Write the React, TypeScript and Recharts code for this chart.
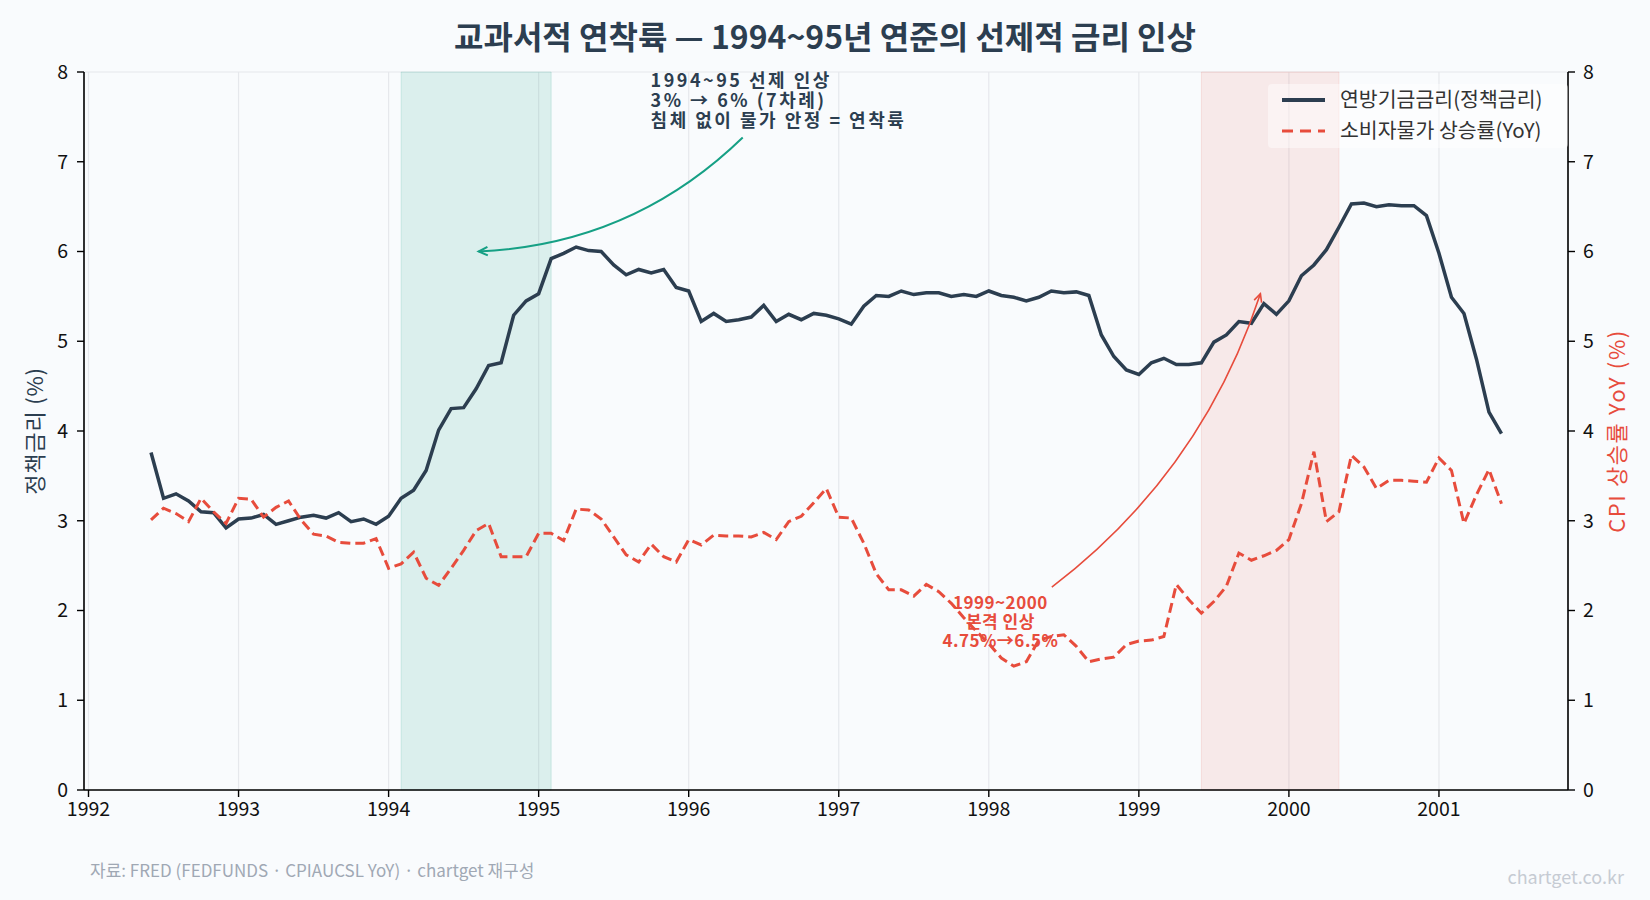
import {
  CartesianGrid,
  Legend,
  Line,
  LineChart,
  ReferenceArea,
  ReferenceDot,
  ReferenceLine,
  XAxis,
  YAxis,
} from "recharts";

// 월별 데이터: 1992-06 ~ 2001-06
const START_YEAR = 1992;
const START_MONTH = 6;

// 연방기금금리 (%)
const fedFunds = [
  3.76, 3.25, 3.3, 3.22, 3.1, 3.09, 2.92,
  3.02, 3.03, 3.07, 2.96, 3.0, 3.04, 3.06, 3.03, 3.09, 2.99, 3.02, 2.96,
  3.05, 3.25, 3.34, 3.56, 4.01, 4.25, 4.26, 4.47, 4.73, 4.76, 5.29, 5.45,
  5.53, 5.92, 5.98, 6.05, 6.01, 6.0, 5.85, 5.74, 5.8, 5.76, 5.8, 5.6,
  5.56, 5.22, 5.31, 5.22, 5.24, 5.27, 5.4, 5.22, 5.3, 5.24, 5.31, 5.29,
  5.25, 5.19, 5.39, 5.51, 5.5, 5.56, 5.52, 5.54, 5.54, 5.5, 5.52, 5.5,
  5.56, 5.51, 5.49, 5.45, 5.49, 5.56, 5.54, 5.55, 5.51, 5.07, 4.83, 4.68,
  4.63, 4.76, 4.81, 4.74, 4.74, 4.76, 4.99, 5.07, 5.22, 5.2, 5.42, 5.3,
  5.45, 5.73, 5.85, 6.02, 6.27, 6.53, 6.54, 6.5, 6.52, 6.51, 6.51, 6.4,
  5.98, 5.49, 5.31, 4.8, 4.21, 3.97,
];

// 소비자물가 상승률 YoY (%)
const cpiYoY = [
  3.01, 3.14, 3.08, 2.99, 3.25, 3.1, 2.97,
  3.25, 3.24, 3.04, 3.15, 3.22, 3.01, 2.85, 2.83, 2.76, 2.75, 2.75, 2.8,
  2.47, 2.52, 2.65, 2.36, 2.28, 2.47, 2.67, 2.89, 2.97, 2.6, 2.6, 2.6,
  2.86, 2.86, 2.78, 3.13, 3.12, 3.02, 2.82, 2.62, 2.54, 2.74, 2.6, 2.54,
  2.79, 2.73, 2.84, 2.83, 2.83, 2.82, 2.87, 2.79, 2.99, 3.05, 3.2, 3.36,
  3.04, 3.03, 2.75, 2.41, 2.23, 2.23, 2.16, 2.29, 2.21, 2.08, 1.92, 1.77,
  1.63, 1.47, 1.38, 1.43, 1.67, 1.71, 1.73, 1.6, 1.43, 1.46, 1.48, 1.62,
  1.66, 1.67, 1.71, 2.29, 2.12, 1.97, 2.1, 2.27, 2.64, 2.56, 2.61, 2.67,
  2.79, 3.19, 3.77, 2.99, 3.1, 3.73, 3.6, 3.36, 3.45, 3.45, 3.44, 3.43,
  3.7, 3.56, 2.97, 3.29, 3.57, 3.19,
];

const yearTicks = [1992, 1993, 1994, 1995, 1996, 1997, 1998, 1999, 2000, 2001];
const valueTicks = [0, 1, 2, 3, 4, 5, 6, 7, 8];

// 인상 구간 (1994-02 ~ 1995-02, 1999-06 ~ 2000-05)
const preemptiveSpan = [1994 + 1 / 12, 1995 + 1 / 12];
const fullHikeSpan = [1999 + 5 / 12, 2000 + 4 / 12];

const softLandingNote = ["1994~95 선제 인상", "3% → 6% (7차례)", "침체 없이 물가 안정 = 연착륙"];
const hikeNote = ["1999~2000", "본격 인상", "4.75%→6.5%"];

const NAVY = "#2c3e50";
const RED = "#e74c3c";
const GREEN = "#16a085";
const BG = "#f9fbfd";
const FONT = "'Noto Sans CJK KR', 'Noto Sans', sans-serif";

const data = fedFunds.map((v, i) => ({
  t: START_YEAR + (START_MONTH - 1 + i) / 12,
  fed: v,
  cpi: cpiYoY[i],
}));

function curvedArrow(color: string, width: number, bend: number, head: number) {
  return (p: any) => {
    const { x1, y1, x2, y2 } = p;
    const mx = (x1 + x2) / 2;
    const my = (y1 + y2) / 2;
    const dx = x2 - x1;
    const dy = y2 - y1;
    const cx = mx + bend * dy;
    const cy = my - bend * dx;
    const ang = Math.atan2(y2 - cy, x2 - cx);
    const a = 0.45;
    const ax = x2 - head * Math.cos(ang - a);
    const ay = y2 - head * Math.sin(ang - a);
    const bx = x2 - head * Math.cos(ang + a);
    const by = y2 - head * Math.sin(ang + a);
    return (
      <g>
        <path d={`M${x1},${y1} Q${cx},${cy} ${x2},${y2}`} fill="none" stroke={color} strokeWidth={width} />
        <path d={`M${ax},${ay} L${x2},${y2} L${bx},${by}`} fill="none" stroke={color} strokeWidth={width} />
      </g>
    );
  };
}

function noteText(lines: string[], color: string, size: number, pitch: number, anchor: "start" | "middle", center: boolean, spacing: number) {
  return (p: any) => {
    const first = center ? -pitch : 0;
    return (
      <text x={p.cx} y={p.cy} fill={color} fontSize={size} fontWeight={700} textAnchor={anchor} fontFamily={FONT} letterSpacing={spacing}>
        {lines.map((l, i) => (
          <tspan key={i} x={p.cx} y={p.cy + first + i * pitch} dy={center ? "0.35em" : "0.85em"}>
            {l}
          </tspan>
        ))}
      </text>
    );
  };
}

function AxisTitle(props: any) {
  const { viewBox, text, color, dx, spacing } = props;
  if (!viewBox) return null;
  const x = viewBox.x + dx;
  const y = viewBox.y + viewBox.height / 2;
  return (
    <text x={x} y={y} fill={color} fontSize={22} letterSpacing={spacing} textAnchor="middle" dominantBaseline="central" transform={`rotate(-90, ${x}, ${y})`} fontFamily={FONT}>
      {text}
    </text>
  );
}

function LegendBox(props: any) {
  const items = [...(props.payload || [])].sort((a: any, b: any) => {
    const da = a.payload && a.payload.strokeDasharray ? 1 : 0;
    const db = b.payload && b.payload.strokeDasharray ? 1 : 0;
    return da - db;
  });
  return (
    <svg width={300} height={64}>
      <rect x={0} y={0} width={300} height={64} rx={4} fill="#ffffff" fillOpacity={0.45} />
      {items.map((it: any, i: number) => {
        const y = 16 + i * 31;
        const dashed = it.payload && it.payload.strokeDasharray;
        return (
          <g key={i}>
            <line x1={14} x2={57} y1={y} y2={y} stroke={it.color} strokeWidth={dashed ? 3.2 : 4} strokeDasharray={dashed ? "11 7" : undefined} />
            <text x={72} y={y} dy="0.35em" fontSize={20.5} fill="#333" fontFamily={FONT}>
              {it.value}
            </text>
          </g>
        );
      })}
    </svg>
  );
}

export default function App() {
  return (
    <div style={{ position: "absolute", left: 0, top: 0, width: 1650, height: 900, background: BG, fontFamily: FONT }}>
      <div style={{ position: "absolute", left: 0, top: 12, width: 1650, textAlign: "center", fontSize: 32, fontWeight: 700, color: NAVY, lineHeight: "46px" }}>
        교과서적 연착륙 — 1994~95년 연준의 선제적 금리 인상
      </div>
      <LineChart width={1650} height={900} data={data} margin={{ top: 72, right: 32, bottom: 80, left: 34 }}>
        <CartesianGrid stroke="#e6e8ec" strokeWidth={1.2} />
        <ReferenceArea yAxisId="left" x1={preemptiveSpan[0]} x2={preemptiveSpan[1]} y1={0} y2={8} fill={GREEN} fillOpacity={0.13} stroke={GREEN} strokeOpacity={0.15} />
        <ReferenceArea yAxisId="left" x1={fullHikeSpan[0]} x2={fullHikeSpan[1]} y1={0} y2={8} fill={RED} fillOpacity={0.1} stroke={RED} strokeOpacity={0.12} />
        <XAxis
          dataKey="t"
          type="number"
          domain={[1991.97, 2001.86]}
          ticks={yearTicks}
          tickFormatter={(v: number) => String(Math.round(v))}
          tick={{ fontSize: 19.5, fill: "#111" }}
          axisLine={{ stroke: "#000", strokeWidth: 1.6 }}
          tickLine={{ stroke: "#000", strokeWidth: 1.4 }}
          tickSize={7}
          tickMargin={5}
          height={30}
        />
        <YAxis
          yAxisId="left"
          domain={[0, 8]}
          ticks={valueTicks}
          tick={{ fontSize: 19.5, fill: "#111" }}
          axisLine={{ stroke: "#000", strokeWidth: 1.6 }}
          tickLine={{ stroke: "#000", strokeWidth: 1.4 }}
          tickSize={7}
          tickMargin={9}
          width={50}
          label={<AxisTitle text="정책금리 (%)" color={NAVY} dx={-1} spacing={0.8} />}
        />
        <YAxis
          yAxisId="right"
          orientation="right"
          domain={[0, 8]}
          ticks={valueTicks}
          tick={{ fontSize: 19.5, fill: "#111" }}
          axisLine={{ stroke: "#000", strokeWidth: 1.6 }}
          tickLine={{ stroke: "#000", strokeWidth: 1.4 }}
          tickSize={7}
          tickMargin={8}
          width={50}
          label={<AxisTitle text="CPI 상승률 YoY (%)" color={RED} dx={47} spacing={1.6} />}
        />
        <Line yAxisId="left" type="linear" dataKey="fed" name="연방기금금리(정책금리)" stroke={NAVY} strokeWidth={3.5} dot={false} isAnimationActive={false} />
        <Line yAxisId="right" type="linear" dataKey="cpi" name="소비자물가 상승률(YoY)" stroke={RED} strokeWidth={3} strokeDasharray="10 5" dot={false} isAnimationActive={false} />
        <ReferenceLine
          yAxisId="left"
          segment={[{ x: 1996.36, y: 7.27 }, { x: 1994.6, y: 6.0 }]}
          ifOverflow="visible"
          shape={curvedArrow(GREEN, 2, 0.19, 10)}
        />
        <ReferenceLine
          yAxisId="left"
          segment={[{ x: 1998.42, y: 2.26 }, { x: 1999.81, y: 5.53 }]}
          ifOverflow="visible"
          shape={curvedArrow(RED, 1.6, -0.155, 9)}
        />
        <ReferenceDot yAxisId="left" x={1995.746} y={8.0} r={0} ifOverflow="visible" shape={noteText(softLandingNote, NAVY, 18, 20, "start", false, 2.5)} />
        <ReferenceDot yAxisId="left" x={1998.077} y={1.874} r={0} ifOverflow="visible" shape={noteText(hikeNote, RED, 17, 19, "middle", true, 0.5)} />
        <Legend
          layout="vertical"
          align="center"
          verticalAlign="middle"
          wrapperStyle={{ position: "absolute", top: 84, left: 1268, width: 300 }}
          content={<LegendBox />}
        />
      </LineChart>
      <div style={{ position: "absolute", left: 90, top: 858, fontSize: 17, color: "#a0a8b4", lineHeight: "24px" }}>
        자료: FRED (FEDFUNDS · CPIAUCSL YoY) · chartget 재구성
      </div>
      <div style={{ position: "absolute", right: 26, top: 863, fontSize: 18, color: "#c6cbd3", lineHeight: "26px" }}>
        chartget.co.kr
      </div>
    </div>
  );
}
